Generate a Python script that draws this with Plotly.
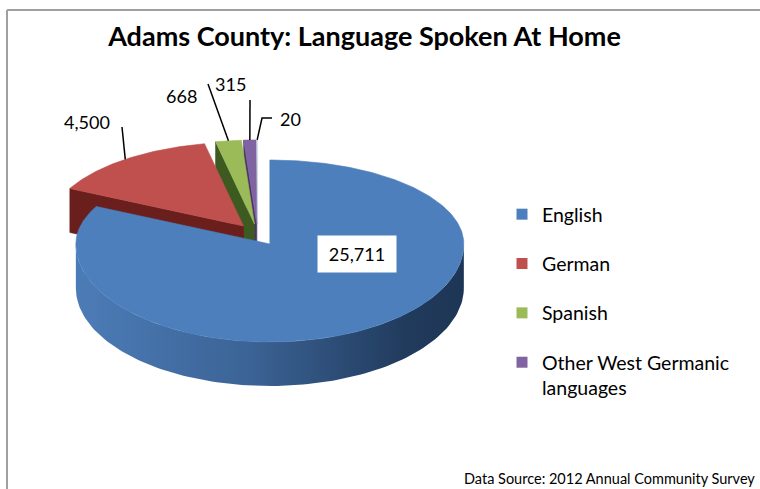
import numpy as np
import plotly.graph_objects as go

# ---- data -------------------------------------------------------------
languages = ["English", "German", "Spanish", "Other West Germanic languages", "Other"]
legend_names = ["English", "German", "Spanish", "Other West Germanic<br>languages"]
speakers = [25711, 4500, 668, 315, 20]
value_labels = [f"{v:,}" for v in speakers]

top_colors = ["#4D7FBC", "#C0504D", "#9BBB59", "#8064A2", "#FFFFFF"]
cut_colors = ["#2B4A70", "#6B1F1D", "#3D5A20", "#4A3566", "#E6ECF4"]
wall_scale = [[0.0, "#4C7CB7"], [0.45, "#3B6395"], [0.85, "#213B5D"], [1.0, "#1E3655"]]

# ---- 3-D pie geometry (screen pixels, y grows downward) ---------------
CX, CY = 257.6, 234.0
RX = 194.0
RY_BACK, RY_FRONT = 84.0, 98.0
DEPTH = 44.0
EXPLODE = 0.12
FONT = "Lato"


def rim(theta_deg):
    """Offset of the rim point at a clockwise angle measured from 12 o'clock."""
    t = np.radians(np.asarray(theta_deg, dtype=float))
    s, c = np.sin(t), np.cos(t)
    ry = np.where(c > 0, RY_BACK, RY_FRONT)
    return RX * s, -ry * c


total = float(sum(speakers))
ends = np.cumsum(speakers) / total * 360.0
starts = np.concatenate([[0.0], ends[:-1]])
mids = (starts + ends) / 2.0

apex = []
for m in mids:
    dx, dy = rim(m)
    apex.append((CX + EXPLODE * float(dx), CY + EXPLODE * float(dy)))

fig = go.Figure()


def add_poly(xs, ys, color, gradient=None):
    kw = dict(
        x=list(xs), y=list(ys), mode="lines", fill="toself",
        line=dict(width=0.6, color=color), fillcolor=color,
        hoverinfo="skip", showlegend=False,
    )
    if gradient is not None:
        kw["fillgradient"] = dict(type="horizontal", colorscale=gradient)
        kw["line"] = dict(width=0)
    fig.add_trace(go.Scatter(**kw))


# paint back-to-front: the small slices first, English last
for i in [4, 3, 2, 1, 0]:
    ax_, ay_ = apex[i]
    t0, t1 = starts[i], ends[i]

    # radial cut face at the slice start, visible when it turns toward the viewer
    if np.sin(np.radians(t0)) < -1e-9:
        ox, oy = rim(t0)
        ox, oy = ax_ + float(ox), ay_ + float(oy)
        add_poly([ax_, ox, ox, ax_, ax_], [ay_, oy, oy + DEPTH, ay_ + DEPTH, ay_], cut_colors[i])

    # outer wall on the front half of the rim
    lo, hi = max(t0, 90.0), min(t1, 270.0)
    if hi > lo:
        th = np.linspace(lo, hi, 120)
        wx, wy = rim(th)
        wx = ax_ + wx
        wy = ay_ + wy
        xs = np.concatenate([wx, wx[::-1], wx[:1]])
        ys = np.concatenate([wy, wy[::-1] + DEPTH, wy[:1]])
        add_poly(xs, ys, "#3B6395", gradient=wall_scale)

    # top face
    th = np.linspace(t0, t1, max(4, int((t1 - t0) * 1.5)))
    tx, ty = rim(th)
    xs = np.concatenate([[ax_], ax_ + tx, [ax_]])
    ys = np.concatenate([[ay_], ay_ + ty, [ay_]])
    line_col = "#C9D5E6" if i == 4 else top_colors[i]
    fig.add_trace(go.Scatter(
        x=xs, y=ys, mode="lines", fill="toself", fillcolor=top_colors[i],
        line=dict(width=0.8 if i == 4 else 0.6, color=line_col),
        hoverinfo="skip", showlegend=False,
    ))

# ---- leader lines and value labels for the small slices ----------------
label_pos = {1: (87, 122), 2: (181, 96), 3: (230, 84), 4: (290, 119)}
leader_start = {1: [(122, 127)], 2: [(208, 84)], 3: [(250, 100)], 4: [(272, 118), (262, 118)]}
for i in [1, 2, 3, 4]:
    ox, oy = rim(mids[i])
    end = (apex[i][0] + float(ox), apex[i][1] + float(oy))
    pts = leader_start[i] + [end]
    fig.add_trace(go.Scatter(
        x=[p[0] for p in pts], y=[p[1] for p in pts], mode="lines",
        line=dict(color="black", width=1.5), hoverinfo="skip", showlegend=False,
    ))
    fig.add_annotation(
        x=label_pos[i][0], y=label_pos[i][1], text=value_labels[i], showarrow=False,
        font=dict(family=FONT, size=18, color="black"), xanchor="center", yanchor="middle",
    )

# English value in a white box
fig.add_annotation(
    x=357, y=254, text=value_labels[0], showarrow=False, bgcolor="white",
    width=78, height=36, borderpad=0,
    font=dict(family=FONT, size=18, color="black"), xanchor="center", yanchor="middle",
)

# ---- legend entries ----------------------------------------------------
for name, col in zip(legend_names, top_colors[:4]):
    fig.add_trace(go.Scatter(
        x=[None], y=[None], mode="markers", name=name, legendgroup=name,
        marker=dict(symbol="square", size=11, color=col),
    ))

fig.add_annotation(
    x=757, y=478, text="Data Source: 2012 Annual Community Survey", showarrow=False,
    font=dict(family=FONT, size=14.5, color="black"), xanchor="right", yanchor="middle",
)

# chart frame
fig.add_shape(type="line", x0=7, y0=10, x1=760, y1=10, line=dict(color="#A0A0A0", width=2))
fig.add_shape(type="line", x0=7, y0=10, x1=7, y1=489, line=dict(color="#A0A0A0", width=2))

fig.update_layout(
    width=760, height=489,
    margin=dict(l=0, r=0, t=0, b=0, pad=0),
    paper_bgcolor="white", plot_bgcolor="white",
    title=dict(
        text="<b>Adams County: Language Spoken At Home</b>",
        x=364.5 / 760, xanchor="center", y=1 - 37 / 489, yanchor="middle",
        font=dict(family=FONT, size=27, color="black"),
    ),
    xaxis=dict(range=[0, 760], visible=False, fixedrange=True),
    yaxis=dict(range=[489, 0], visible=False, fixedrange=True),
    showlegend=True,
    legend=dict(
        x=502 / 760, y=1 - 195 / 489, xanchor="left", yanchor="top",
        font=dict(family=FONT, size=19.5, color="black"),
        tracegroupgap=21, valign="top", bgcolor="rgba(0,0,0,0)",
    ),
)

fig.write_html("out.html")
